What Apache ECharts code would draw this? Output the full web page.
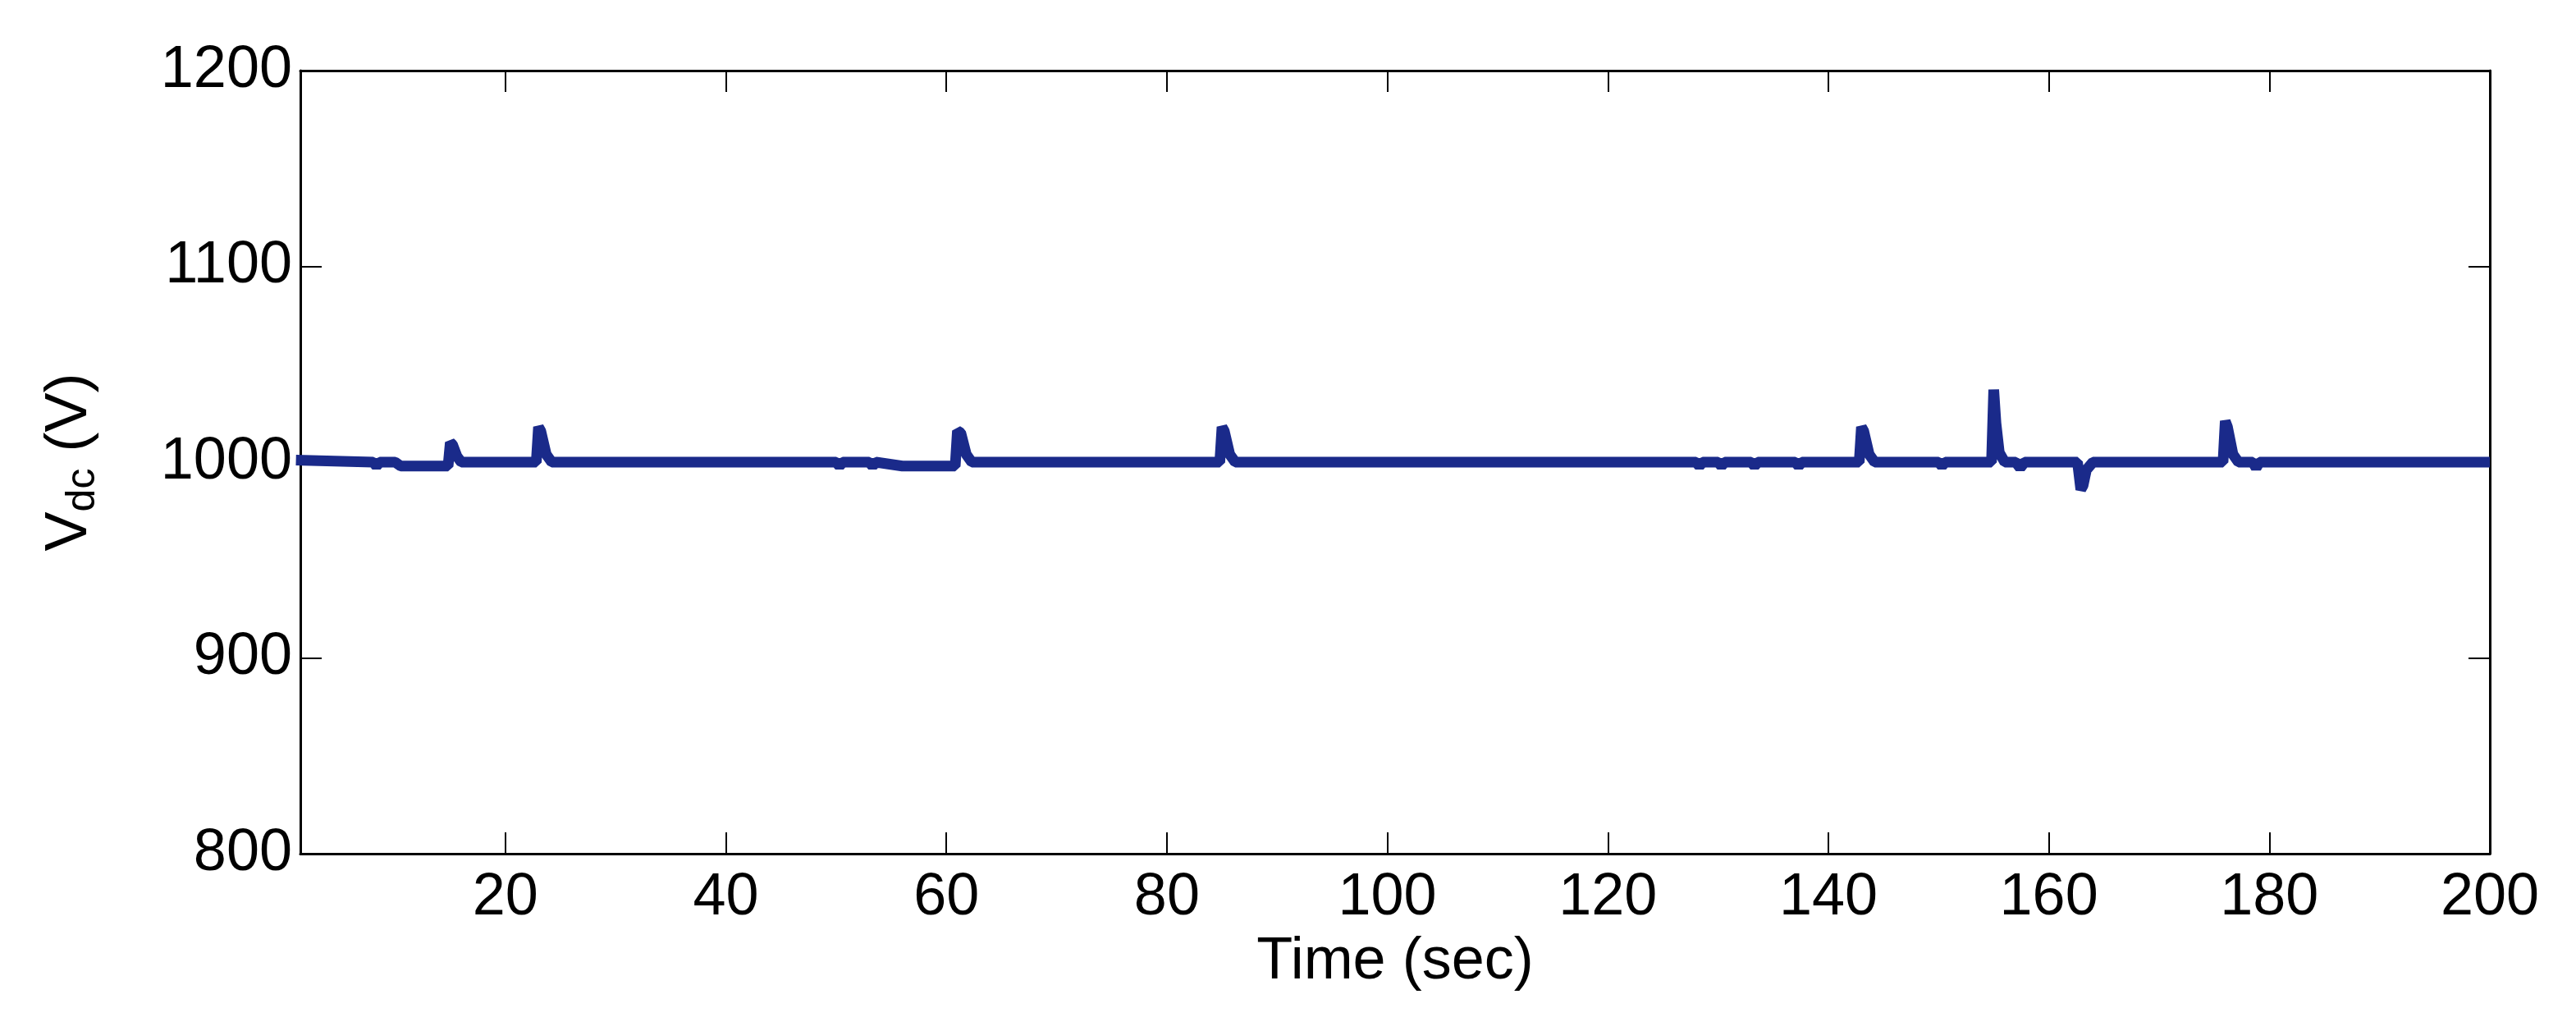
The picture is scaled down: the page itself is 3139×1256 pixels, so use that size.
<!DOCTYPE html>
<html><head><meta charset="utf-8">
<script src="https://cdn.jsdelivr.net/npm/echarts@6/dist/echarts.min.js"></script>
<style>html,body{margin:0;background:#fff}#c{width:3139px;height:1256px}</style>
</head><body><div id="c"></div>
<script>
// time (sec) and Vdc (V)
var timeSec = [1, 8, 8.3, 8.6, 9, 10, 10.5, 11, 12, 12.5, 13, 14.8, 15, 15.2, 15.6, 16, 22.8, 23, 23.2, 23.7, 24.2,
  50, 50.3, 50.6, 53, 53.3, 53.6, 56, 56.5, 60.4, 60.8, 61, 61.3, 61.8, 62.3, 84.8, 85, 85.2, 85.7, 86.2,
  128, 128.3, 128.6, 130, 130.3, 130.6, 133, 133.3, 133.6, 137, 137.3, 137.6, 142.8, 143, 143.2, 143.7, 144.2,
  150, 150.3, 150.6, 154.8, 155, 155.2, 155.5, 156, 157, 157.4, 157.8, 162.6, 162.9, 163.1, 163.4, 164,
  175.8, 176, 176.2, 176.7, 177.2, 178.5, 178.8, 179.1, 200];
var vdc = [1001, 1000, 998, 1000, 1000, 1000, 998, 998, 998, 998, 998, 998, 1010, 1009, 1003, 1000, 1000, 1018, 1016, 1004, 1000,
  1000, 998, 1000, 1000, 998, 1000, 998, 998, 998, 998, 1016, 1015, 1004, 1000, 1000, 1018, 1016, 1004, 1000,
  1000, 998, 1000, 1000, 998, 1000, 1000, 998, 1000, 1000, 998, 1000, 1000, 1018, 1016, 1004, 1000,
  1000, 998, 1000, 1000, 1037, 1020, 1005, 1000, 1000, 997, 1000, 1000, 986, 988, 996, 1000,
  1000, 1021, 1018, 1004, 1000, 1000, 997, 1000, 1000];
var xTicks = [20, 40, 60, 80, 100, 120, 140, 160, 180, 200];
var yTicks = [800, 900, 1000, 1100, 1200];

var pts = timeSec.map(function (t, i) { return [t, vdc[i]]; });
var font = 'Liberation Sans';
var tick = { show: true, inside: true, length: 26, lineStyle: { color: '#000', width: 2 } };
var line = { show: true, lineStyle: { color: '#000', width: 3 } };
var xBase = { type: 'value', min: 1.4, max: 200, splitLine: { show: false }, axisLine: line,
  axisTick: Object.assign({ customValues: xTicks }, tick) };
var yBase = { type: 'value', min: 800, max: 1200, interval: 100, splitLine: { show: false }, axisLine: line,
  axisTick: Object.assign({ customValues: yTicks }, tick) };

var myChart = echarts.init(document.getElementById('c'));
var option = {
  animation: false,
  grid: { left: 366, right: 105, top: 86, bottom: 216 },
  xAxis: [
    Object.assign({}, xBase, {
      position: 'bottom',
      name: 'Time (sec)', nameLocation: 'middle', nameGap: 96,
      nameTextStyle: { fontFamily: font, fontSize: 72, color: '#000' },
      axisLabel: { fontFamily: font, fontSize: 72, color: '#000', margin: 18, customValues: xTicks,
        formatter: function (v) { return String(v); } }
    }),
    Object.assign({}, xBase, { position: 'top', axisLabel: { show: false } })
  ],
  yAxis: [
    Object.assign({}, yBase, {
      position: 'left',
      name: '{a|V}{b|dc}{a| (V)}', nameLocation: 'middle', nameGap: 240,
      nameTextStyle: {
        rich: {
          a: { fontFamily: font, fontSize: 72, color: '#000' },
          b: { fontFamily: font, fontSize: 50, color: '#000', padding: [32, 0, 0, 0] }
        }
      },
      axisLabel: { fontFamily: font, fontSize: 72, color: '#000', margin: 10, customValues: yTicks,
        formatter: function (v) { return String(v); } }
    }),
    Object.assign({}, yBase, { position: 'right', axisLabel: { show: false } })
  ],
  series: [{
    type: 'line', data: pts, showSymbol: false,
    lineStyle: { color: '#1a2a8a', width: 13 }
  }]
};
option && myChart.setOption(option);
</script></body></html>
